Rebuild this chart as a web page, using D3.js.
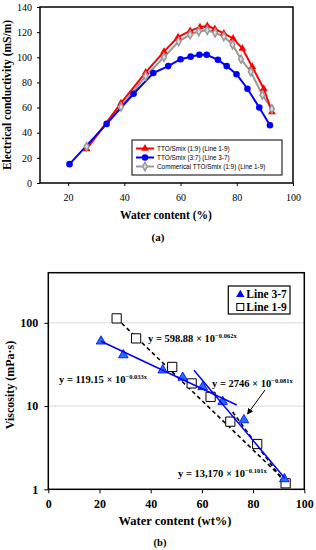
<!DOCTYPE html>
<html>
<head>
<meta charset="utf-8">
<script src="https://cdn.jsdelivr.net/npm/d3@7/dist/d3.min.js"></script>
<style>
  body { margin: 0; background: #fff; }
  svg { display: block; }
</style>
</head>
<body>
<svg id="chart" width="316" height="550"></svg>
<script>
// ---- panel (a): electrical conductivity ----
var waterA37 = [20.5, 33.7, 43.3, 50.3, 55.6, 60, 63.6, 66.7, 69.3, 73.3, 76.4, 79.9, 83.8, 88, 91.8];
var condA37 = [15, 47, 71, 87.5, 93, 98.5, 100.5, 102, 102, 98, 93, 86.5, 75, 60, 46];
var waterA19 = [26.6, 38.8, 47.6, 54.1, 59.1, 63.4, 66.9, 69.5, 72.2, 75.4, 78.7, 82, 85.5, 89.6, 92.5];
var condA19 = [27, 63.5, 88, 104.5, 116, 121, 124, 125, 122.5, 119, 115, 107, 92.5, 75, 56.5];
var waterCom = [26.6, 38.8, 47.6, 54.1, 59.3, 63.4, 66.5, 69.5, 72.3, 75.4, 78.5, 81.5, 85, 89.1, 92.5];
var condCom = [29, 60.5, 85, 100, 112.5, 118, 120.5, 121.5, 119.5, 116.5, 110, 98.5, 88.5, 70, 59];
var seriesNamesA = ["TTO/Smix (1:9) (Line 1-9)", "TTO/Smix (3:7) (Line 3-7)", "Commerical TTO/Smix (1:9) (Line 1-9)"];
var ticksAx = [20, 40, 60, 80, 100];
var ticksAy = [0, 20, 40, 60, 80, 100, 120, 140];

// ---- panel (b): viscosity ----
var waterB37 = [20.6, 29.3, 44.7, 52.5, 60.3, 68.1, 76.4, 92.2];
var viscB37 = [60, 41, 27, 22, 17, 11.3, 6.8, 1.33];
var waterB19 = [26.7, 34.3, 48.4, 56, 63.4, 71.1, 81.6, 92.7];
var viscB19 = [113, 65, 29.5, 18.7, 12.9, 6.5, 3.5, 1.18];
// fitted lines, as [x0, y0, x1, y1]
var fit37a = [20.6, 60, 73.6, 10.3];
var fit37b = [56.9, 27, 92.4, 1.36];
var fit19a = [26.7, 113, 92.7, 1.25];
var fit19b = [72, 8.5, 93, 1.12];
var fitLabels = [
  {base: "y = 598.88 × 10", exp: "−0.062x"},
  {base: "y = 119.15 × 10", exp: "−0.033x"},
  {base: "y = 2746 × 10", exp: "−0.081x"},
  {base: "y = 13,170 × 10", exp: "−0.101x"}
];
var seriesNamesB = ["Line 3-7", "Line 1-9"];
var ticksBx = [0, 20, 40, 60, 80, 100];
var ticksBy = [1, 10, 100];

var svg = d3.select("#chart");
var serif = "'Liberation Serif', 'Times New Roman', serif";
var sans = "'Liberation Sans', Arial, sans-serif";

// ================= (a) =================
var xA = d3.scaleLinear().domain([10, 100]).range([40, 293]);
var yA = d3.scaleLinear().domain([0, 140]).range([183, 7]);

var gA = svg.append("g");

gA.append("g")
  .attr("transform", "translate(0,183)")
  .call(d3.axisBottom(xA).tickValues(ticksAx).tickSize(3).tickPadding(8))
  .call(function(g) { g.select(".domain").remove(); })
  .selectAll("text").style("font-family", serif).style("font-size", "10px").attr("fill", "#000");

gA.append("g")
  .attr("transform", "translate(40,0)")
  .call(d3.axisLeft(yA).tickValues(ticksAy).tickSize(3).tickPadding(5))
  .call(function(g) { g.select(".domain").remove(); })
  .selectAll("text").style("font-family", serif).style("font-size", "10px").attr("fill", "#000");

gA.append("rect")
  .attr("x", 40).attr("y", 7).attr("width", 253).attr("height", 176)
  .attr("fill", "none").attr("stroke", "#000").attr("stroke-width", 1.5);

var lineA = function(xs, ys) {
  return d3.line().x(function(d) { return xA(d); }).y(function(d, i) { return yA(ys[i]); })(xs);
};

// gray commercial
gA.append("path").attr("d", lineA(waterCom, condCom))
  .attr("fill", "none").attr("stroke", "#999").attr("stroke-width", 2);
// red 1:9
gA.append("path").attr("d", lineA(waterA19, condA19))
  .attr("fill", "none").attr("stroke", "#ff0000").attr("stroke-width", 2);
// blue 3:7
gA.append("path").attr("d", lineA(waterA37, condA37))
  .attr("fill", "none").attr("stroke", "#0000ff").attr("stroke-width", 2);

var triSym = d3.symbol().type(d3.symbolTriangle).size(26);
var circSym = d3.symbol().type(d3.symbolCircle).size(34);
var diaSym = d3.symbol().type(d3.symbolDiamond).size(20);

gA.selectAll(".redpt").data(waterA19).enter().append("path")
  .attr("d", triSym)
  .attr("transform", function(d, i) { return "translate(" + xA(d) + "," + yA(condA19[i]) + ")"; })
  .attr("fill", "#ff0000");
gA.selectAll(".graypt").data(waterCom).enter().append("path")
  .attr("d", diaSym)
  .attr("transform", function(d, i) { return "translate(" + xA(d) + "," + yA(condCom[i]) + ")"; })
  .attr("fill", "#ddd").attr("stroke", "#999").attr("stroke-width", 1.5);
gA.selectAll(".bluept").data(waterA37).enter().append("path")
  .attr("d", circSym)
  .attr("transform", function(d, i) { return "translate(" + xA(d) + "," + yA(condA37[i]) + ")"; })
  .attr("fill", "#0000ff");

// legend (a)
var legA = gA.append("g").attr("transform", "translate(132,140)");
legA.append("rect").attr("width", 150).attr("height", 35)
  .attr("fill", "#fff").attr("stroke", "#000").attr("stroke-width", 1);
var legStyles = [
  {c: "#ff0000", s: triSym, fill: "#ff0000", st: "none"},
  {c: "#0000ff", s: circSym, fill: "#0000ff", st: "none"},
  {c: "#999", s: diaSym, fill: "#ddd", st: "#999"}
];
seriesNamesA.forEach(function(name, i) {
  var yy = 8.5 + i * 9;
  var st = legStyles[i];
  legA.append("line").attr("x1", 4).attr("x2", 22).attr("y1", yy).attr("y2", yy)
    .attr("stroke", st.c).attr("stroke-width", 2);
  legA.append("path").attr("d", st.s).attr("transform", "translate(13," + yy + ")")
    .attr("fill", st.fill).attr("stroke", st.st).attr("stroke-width", 1.5);
  legA.append("text").attr("x", 25).attr("y", yy + 2.5).text(name)
    .style("font-family", sans).style("font-size", "6.4px");
});

gA.append("text").attr("transform", "translate(11,95) rotate(-90)")
  .attr("text-anchor", "middle").text("Electrical conductivity (mS/m)")
  .style("font-family", serif).style("font-size", "11.5px").style("font-weight", "bold");
gA.append("text").attr("x", 166).attr("y", 219).attr("text-anchor", "middle")
  .text("Water content (%)")
  .style("font-family", serif).style("font-size", "11.5px").style("font-weight", "bold");
gA.append("text").attr("x", 158).attr("y", 241).attr("text-anchor", "middle")
  .text("(a)")
  .style("font-family", serif).style("font-size", "11px").style("font-weight", "bold");

// ================= (b) =================
var xB = d3.scaleLinear().domain([0, 100]).range([48.3, 304.3]);
var yB = d3.scaleLog().domain([1, 400]).range([489.3, 272.7]);

var gB = svg.append("g");

gB.selectAll(".grid").data([10, 100]).enter().append("line")
  .attr("x1", 48.3).attr("x2", 304.3)
  .attr("y1", function(d) { return yB(d); }).attr("y2", function(d) { return yB(d); })
  .attr("stroke", "#d9d9d9").attr("stroke-width", 1);

gB.append("g")
  .attr("transform", "translate(0,489.3)")
  .call(d3.axisBottom(xB).tickValues(ticksBx).tickSize(4).tickPadding(6))
  .call(function(g) { g.select(".domain").remove(); })
  .selectAll("text").style("font-family", serif).style("font-size", "12px")
  .style("font-weight", "bold").attr("fill", "#000");

gB.append("g")
  .attr("transform", "translate(48.3,0)")
  .call(d3.axisLeft(yB).tickValues(ticksBy).tickFormat(d3.format("d")).tickSize(4).tickPadding(6))
  .call(function(g) { g.select(".domain").remove(); })
  .selectAll("text").style("font-family", serif).style("font-size", "12px")
  .style("font-weight", "bold").attr("fill", "#000");

gB.append("rect")
  .attr("x", 48.3).attr("y", 272.7).attr("width", 256).attr("height", 216.6)
  .attr("fill", "none").attr("stroke", "#000").attr("stroke-width", 1.5);

var fitLine = function(f) {
  return d3.line().x(function(d) { return xB(d[0]); }).y(function(d) { return yB(d[1]); })
    ([[f[0], f[1]], [f[2], f[3]]]);
};

// dashed fits for line 1-9
[fit19a, fit19b].forEach(function(f) {
  gB.append("path").attr("d", fitLine(f)).attr("fill", "none")
    .attr("stroke", "#000").attr("stroke-width", 1.6).attr("stroke-dasharray", "4,3");
});

// squares line 1-9
var sqSym = d3.symbol().type(d3.symbolSquare).size(85);
gB.selectAll(".sq").data(waterB19).enter().append("path")
  .attr("d", sqSym)
  .attr("transform", function(d, i) { return "translate(" + xB(d) + "," + yB(viscB19[i]) + ")"; })
  .attr("fill", "#fff").attr("stroke", "#000").attr("stroke-width", 1);

// triangles line 3-7
var triB = d3.symbol().type(d3.symbolTriangle).size(40);
gB.selectAll(".tri").data(waterB37).enter().append("path")
  .attr("d", triB)
  .attr("transform", function(d, i) { return "translate(" + xB(d) + "," + yB(viscB37[i]) + ")"; })
  .attr("fill", "#1f6fff").attr("stroke", "#0000ee").attr("stroke-width", 0.8);

// solid fits for line 3-7
[fit37a, fit37b].forEach(function(f) {
  gB.append("path").attr("d", fitLine(f)).attr("fill", "none")
    .attr("stroke", "#0000ff").attr("stroke-width", 1.5);
});

// equation labels
var labelPos = [[148, 342], [59, 383], [212, 387], [178, 477]];
fitLabels.forEach(function(l, i) {
  var t = gB.append("text").attr("x", labelPos[i][0]).attr("y", labelPos[i][1])
    .style("font-family", serif).style("font-size", "10.5px").style("font-weight", "bold");
  t.append("tspan").text(l.base);
  t.append("tspan").attr("dy", -4).style("font-size", "6.5px").text(l.exp);
});

// arrow to line 3-7 second fit
svg.append("defs").append("marker").attr("id", "arr")
  .attr("viewBox", "0 0 10 10").attr("refX", 9).attr("refY", 5)
  .attr("markerWidth", 6).attr("markerHeight", 6).attr("orient", "auto")
  .append("path").attr("d", "M0,0L10,5L0,10z").attr("fill", "#000");
gB.append("line").attr("x1", 265).attr("y1", 390).attr("x2", 247.5).attr("y2", 414)
  .attr("stroke", "#000").attr("stroke-width", 1).attr("marker-end", "url(#arr)");

// legend (b)
var legB = gB.append("g").attr("transform", "translate(228.3,286)");
legB.append("rect").attr("width", 61.7).attr("height", 28)
  .attr("fill", "#fff").attr("stroke", "#000").attr("stroke-width", 1.2);
legB.append("path").attr("d", d3.symbol().type(d3.symbolTriangle).size(30))
  .attr("transform", "translate(12,8.5)").attr("fill", "#0000ff");
legB.append("rect").attr("x", 8.5).attr("y", 17.5).attr("width", 7).attr("height", 7)
  .attr("fill", "#fff").attr("stroke", "#000").attr("stroke-width", 1);
seriesNamesB.forEach(function(name, i) {
  legB.append("text").attr("x", 18).attr("y", 12 + i * 13).text(name)
    .style("font-family", serif).style("font-size", "11.5px").style("font-weight", "bold");
});

gB.append("text").attr("transform", "translate(14,385) rotate(-90)")
  .attr("text-anchor", "middle").text("Viscosity (mPa·s)")
  .style("font-family", serif).style("font-size", "12px").style("font-weight", "bold");
gB.append("text").attr("x", 175).attr("y", 525).attr("text-anchor", "middle")
  .text("Water content (wt%)")
  .style("font-family", serif).style("font-size", "12.5px").style("font-weight", "bold");
gB.append("text").attr("x", 160).attr("y", 546).attr("text-anchor", "middle")
  .text("(b)")
  .style("font-family", serif).style("font-size", "10.5px").style("font-weight", "bold");
</script>
</body>
</html>
